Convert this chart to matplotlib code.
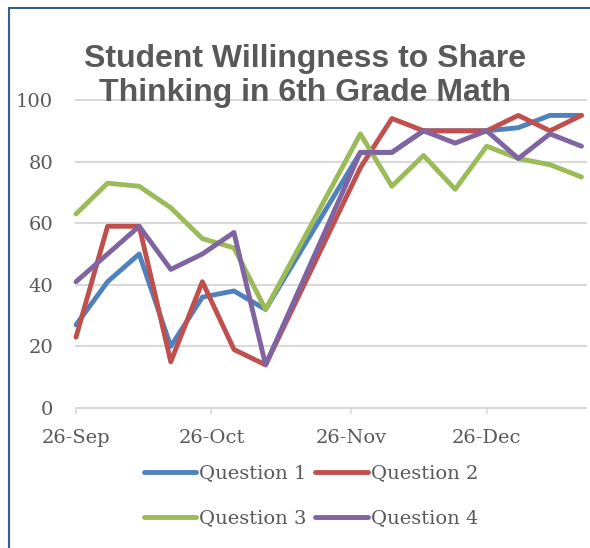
import matplotlib
matplotlib.use("Agg")
import matplotlib.pyplot as plt
import matplotlib.dates as mdates
from matplotlib.patches import Rectangle
from matplotlib.lines import Line2D
import datetime as dt

dates = ["2013-09-26", "2013-10-03", "2013-10-10", "2013-10-17", "2013-10-24",
         "2013-10-31", "2013-11-07", "2013-11-28", "2013-12-05", "2013-12-12",
         "2013-12-19", "2013-12-26", "2014-01-02", "2014-01-09", "2014-01-16"]
question_1 = [27, 41, 50, 20, 36, 38, 32, 83, 83, 90, 90, 90, 91, 95, 95]
question_2 = [23, 59, 59, 15, 41, 19, 14, 78, 94, 90, 90, 90, 95, 90, 95]
question_3 = [63, 73, 72, 65, 55, 52, 32, 89, 72, 82, 71, 85, 81, 79, 75]
question_4 = [41, 50, 59, 45, 50, 57, 14, 83, 83, 90, 86, 90, 81, 89, 85]
series_names = ["Question 1", "Question 2", "Question 3", "Question 4"]
colors = ["#4F81BD", "#C0504D", "#9BBB59", "#8064A2"]
y_ticks = [0, 20, 40, 60, 80, 100]
x_ticks = ["2013-09-26", "2013-10-26", "2013-11-26", "2013-12-26"]
title = "Student Willingness to Share\nThinking in 6th Grade Math"

W, H = 590, 548
fig = plt.figure(figsize=(W / 100, H / 100), dpi=100)
fig.patch.set_facecolor("white")

# outer chart border (top and left visible)
fig.patches.append(Rectangle((9 / W, -0.1), 1.2, 1 - 8.5 / H + 0.1, transform=fig.transFigure,
                             fill=False, edgecolor="#385D8A", linewidth=1.5, zorder=0))

left, right, top, bottom = 76, 586, 100, 408
ax = fig.add_axes([left / W, 1 - bottom / H, (right - left) / W, (bottom - top) / H])

x = [dt.datetime.strptime(d, "%Y-%m-%d") for d in dates]
for vals, c, name in zip([question_1, question_2, question_3, question_4], colors, series_names):
    ax.plot(x, vals, color=c, lw=3.5, solid_joinstyle="round", solid_capstyle="round",
            label=name, zorder=3, clip_on=False)

ax.set_xlim(dt.datetime(2013, 9, 26), dt.datetime(2014, 1, 17))
ax.set_ylim(0, 100)

ax.set_yticks(y_ticks)
ax.set_yticklabels([str(v) for v in y_ticks])
ax.set_xticks([dt.datetime.strptime(d, "%Y-%m-%d") for d in x_ticks])
ax.xaxis.set_major_formatter(mdates.DateFormatter("%d-%b"))

for s in ["top", "right", "left"]:
    ax.spines[s].set_visible(False)
ax.spines["bottom"].set_color("#D9D9D9")
ax.spines["bottom"].set_linewidth(1.2)

ax.yaxis.grid(True, color="#D9D9D9", linewidth=1.5)
for gl in ax.get_ygridlines():
    gl.set_clip_on(False)
ax.set_axisbelow(True)

serif = ["DejaVu Serif"]
ax.tick_params(axis="y", length=0, pad=16.5, labelsize=14, labelcolor="#595959")
ax.tick_params(axis="x", length=4, width=1.2, color="#D9D9D9", pad=11, labelsize=14,
               labelcolor="#595959", direction="out")
for lab in ax.get_xticklabels() + ax.get_yticklabels():
    lab.set_family(serif)

fig.text(305 / W, 1 - 76 / H, title, ha="center", va="center", fontsize=23,
         fontweight="bold", color="#595959", family=["Liberation Sans"], linespacing=1.18)

# legend laid out row-wise: (Q1, Q2) / (Q3, Q4); matplotlib fills column-wise
order = [0, 2, 1, 3]
handles = [Line2D([0], [0], color=colors[i], lw=3.5, solid_capstyle="round") for i in order]
labels = [series_names[i] for i in order]
leg = fig.legend(handles, labels, loc="center", bbox_to_anchor=(311 / W, 1 - 496 / H),
                 ncol=2, frameon=False, handlelength=2.7, handletextpad=0.15,
                 columnspacing=0.45, labelspacing=1.4,
                 prop={"family": serif, "size": 14})
for t in leg.get_texts():
    t.set_color("#595959")

fig.savefig("out.png", dpi=100, facecolor="white")
